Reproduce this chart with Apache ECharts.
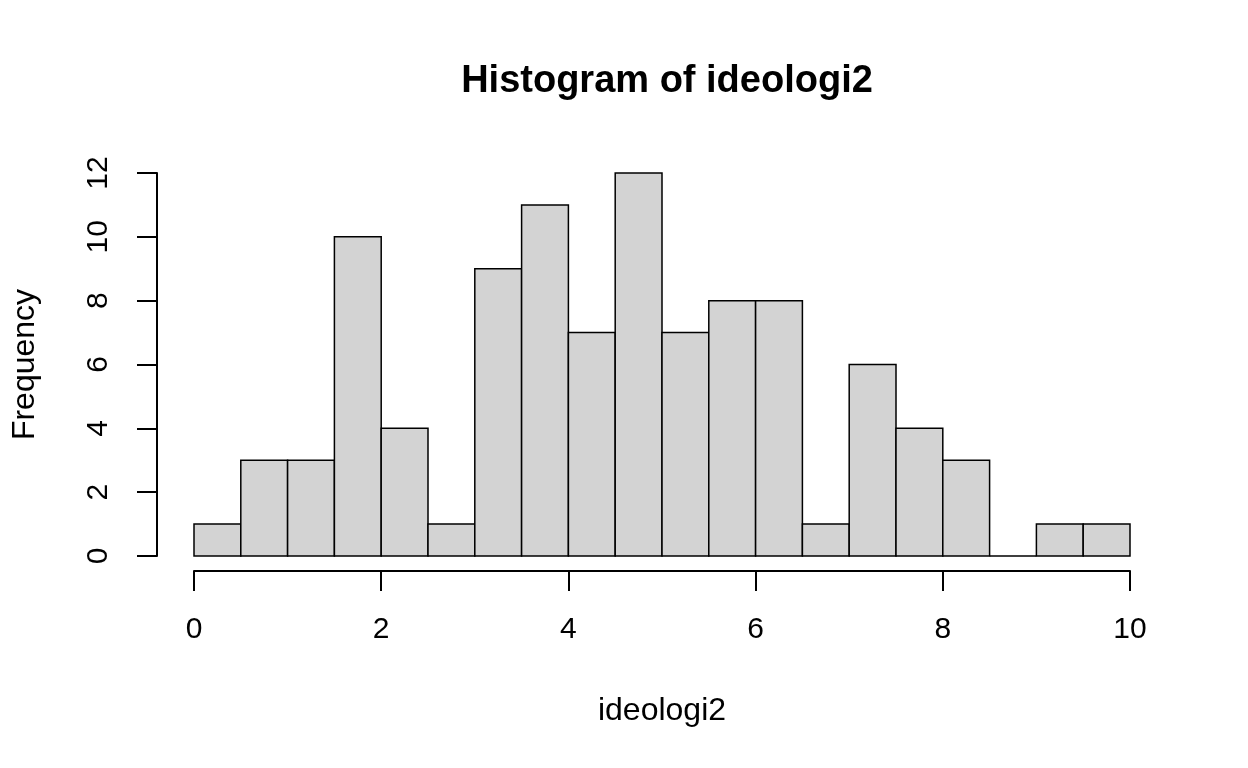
<!DOCTYPE html>
<html>
<head>
<meta charset="utf-8">
<script src="https://cdn.jsdelivr.net/npm/echarts@6/dist/echarts.min.js"></script>
<style>
html,body{margin:0;padding:0;background:#fff;}
#c{width:1248px;height:768px;}
</style>
</head>
<body>
<div id="c"></div>
<script>
const binStarts = [0,0.5,1,1.5,2,2.5,3,3.5,4,4.5,5,5.5,6,6.5,7,7.5,8,8.5,9,9.5];
const binWidth = 0.5;
const counts = [1,3,3,10,4,1,9,11,7,12,7,8,8,1,6,4,3,0,1,1];
const titleText = 'Histogram of ideologi2';
const xLabel = 'ideologi2';
const yLabel = 'Frequency';

const FONT = '"Liberation Sans", Arial, Helvetica, sans-serif';
const chart = echarts.init(document.getElementById('c'), null, {renderer:'canvas'});
const data = binStarts.map((s,i)=>[s, s+binWidth, counts[i]]);

chart.setOption({
  animation:false,
  backgroundColor:'#fff',
  title:{text:titleText,left:662,textAlign:'center',top:58,
    textStyle:{fontFamily:FONT,fontWeight:'bold',fontSize:38,color:'#000'}},
  grid:{left:194,right:118,top:173,bottom:212},
  xAxis:{type:'value',min:0,max:10,interval:2,offset:15,
    name:xLabel,nameLocation:'middle',nameGap:124,
    nameTextStyle:{fontFamily:FONT,fontSize:32,color:'#000'},
    axisLine:{show:true,onZero:false,lineStyle:{color:'#000',width:2}},
    axisTick:{show:true,length:20,lineStyle:{color:'#000',width:2}},
    axisLabel:{fontFamily:FONT,fontSize:30,color:'#000',margin:44},
    splitLine:{show:false}},
  yAxis:{type:'value',min:0,max:12,interval:2,offset:37,
    name:yLabel,nameLocation:'middle',nameGap:116,nameRotate:90,
    nameTextStyle:{fontFamily:FONT,fontSize:32,color:'#000'},
    axisLine:{show:true,onZero:false,lineStyle:{color:'#000',width:2}},
    axisTick:{show:true,length:20,lineStyle:{color:'#000',width:2}},
    axisLabel:{fontFamily:FONT,fontSize:30,color:'#000',margin:43,rotate:90,align:'center',verticalAlign:'bottom'},
    splitLine:{show:false}},
  series:[{
    type:'custom',
    data:data,
    encode:{x:[0,1],y:2},
    renderItem:function(params,api){
      const p0 = api.coord([api.value(0),0]);
      const p1 = api.coord([api.value(1),api.value(2)]);
      return {type:'rect',
        shape:{x:p0[0],y:p1[1],width:p1[0]-p0[0],height:p0[1]-p1[1]},
        style:{fill:'#D3D3D3',stroke:'#000',lineWidth:1.5}};
    }
  }]
});
</script>
</body>
</html>
